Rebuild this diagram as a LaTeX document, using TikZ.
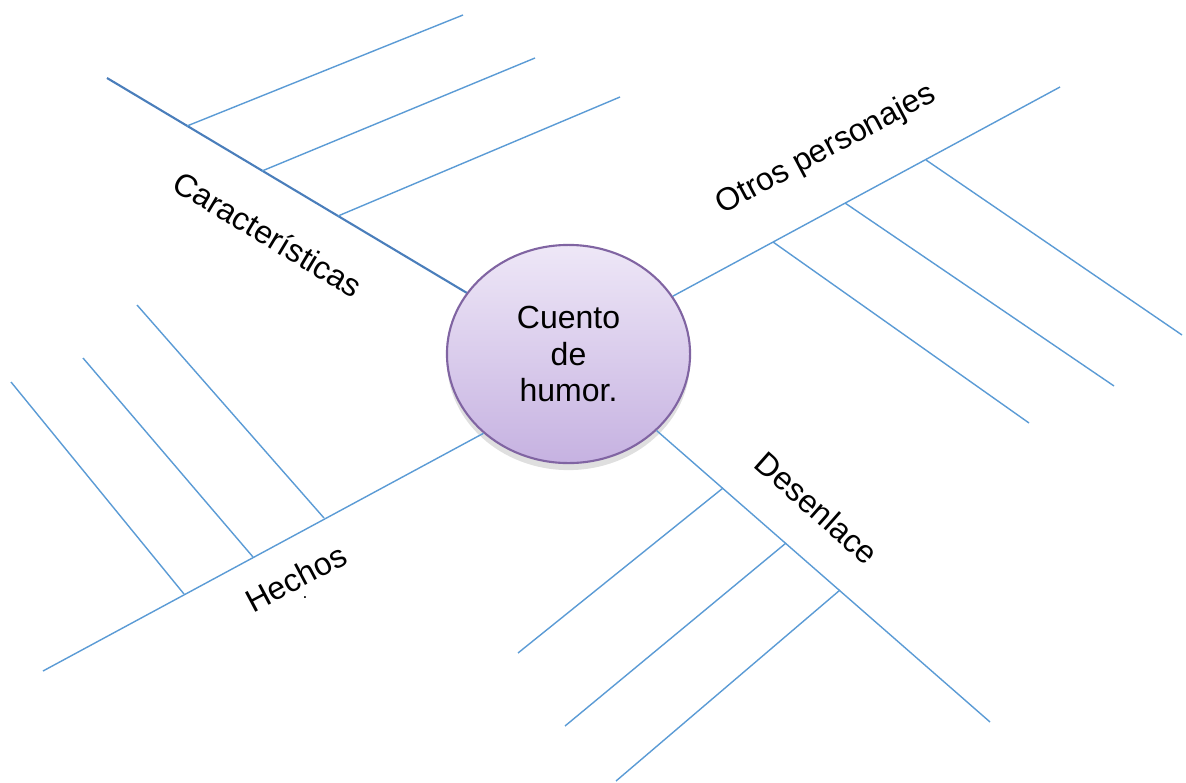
\documentclass[tikz,border=0pt]{standalone}
\usepackage{fontspec}
\setmainfont{Liberation Sans}
\usetikzlibrary{shapes.geometric}
\usetikzlibrary{shadows}
\definecolor{linea}{RGB}{91,155,213}
\definecolor{lineaosc}{RGB}{74,126,187}
\definecolor{lila}{RGB}{128,100,162}
\definecolor{lilaclaro}{RGB}{238,231,247}
\definecolor{lilaoscuro}{RGB}{198,178,225}

\tikzset{
  rama/.style={draw=linea, line width=0.4pt},
  ejeosc/.style={draw=lineaosc, line width=0.6pt},
  centro/.style={ellipse, draw=lila, line width=0.6pt, top color=lilaclaro, bottom color=lilaoscuro,
    minimum width=2.43cm, minimum height=2.18cm, inner sep=0pt, align=center,
    drop shadow={opacity=0.25, shadow xshift=0pt, shadow yshift=-2pt}},
  etiqueta/.style={font=\fontsize{9.1}{10.4}\selectfont}
}

\begin{document}
\begin{tikzpicture}[x=0.01cm, y=-0.01cm]
  \useasboundingbox (0,0) rectangle (1186,782);

  \node [centro, etiqueta] (hub) at (568.5,354) {Cuento\\de\\humor.};

  % Caracteristicas
  \coordinate (carFin) at (107,78);
  \coordinate (car1) at (187,126);
  \coordinate (car2) at (262,171);
  \coordinate (car3) at (338,216);
  \coordinate (carA) at (463,15);
  \coordinate (carB) at (535,58);
  \coordinate (carC) at (620,97);
  \draw [ejeosc] (hub.149) to (carFin);
  \draw [rama] (car1) to (carA);
  \draw [rama] (car2) to (carB);
  \draw [rama] (car3) to (carC);
  \node [etiqueta, rotate=-31] (carTxt) at (268,234) {Características};

  % Otros personajes
  \coordinate (otrFin) at (1060,87);
  \coordinate (otr1) at (773,242);
  \coordinate (otr2) at (845,203);
  \coordinate (otr3) at (926,160);
  \coordinate (otrA) at (1029,423);
  \coordinate (otrB) at (1114,386);
  \coordinate (otrC) at (1182,335);
  \draw [rama] (hub.29) to (otrFin);
  \draw [rama] (otr1) to (otrA);
  \draw [rama] (otr2) to (otrB);
  \draw [rama] (otr3) to (otrC);
  \node [etiqueta, rotate=28] (otrTxt) at (826,150) {Otros personajes};

  % Hechos
  \coordinate (hecFin) at (43,671);
  \coordinate (hec1) at (324,518);
  \coordinate (hec2) at (253,557);
  \coordinate (hec3) at (184,594);
  \coordinate (hecA) at (137,305);
  \coordinate (hecB) at (83,358);
  \coordinate (hecC) at (11,382);
  \draw [rama] (hub.223) to (hecFin);
  \draw [rama] (hec1) to (hecA);
  \draw [rama] (hec2) to (hecB);
  \draw [rama] (hec3) to (hecC);
  \node [etiqueta, rotate=28] (hecTxt) at (296,578) {Hechos};
  \node [font=\fontsize{5}{6}\selectfont] (hecPto) at (305,598) {.};

  % Desenlace
  \coordinate (desFin) at (990,722);
  \coordinate (des1) at (723,488);
  \coordinate (des2) at (786,543);
  \coordinate (des3) at (840,590);
  \coordinate (desA) at (518,653);
  \coordinate (desB) at (565,726);
  \coordinate (desC) at (616,781);
  \draw [rama] (hub.-41) to (desFin);
  \draw [rama] (des1) to (desA);
  \draw [rama] (des2) to (desB);
  \draw [rama] (des3) to (desC);
  \node [etiqueta, rotate=-41.5] (desTxt) at (817,508) {Desenlace};
\end{tikzpicture}
\end{document}
